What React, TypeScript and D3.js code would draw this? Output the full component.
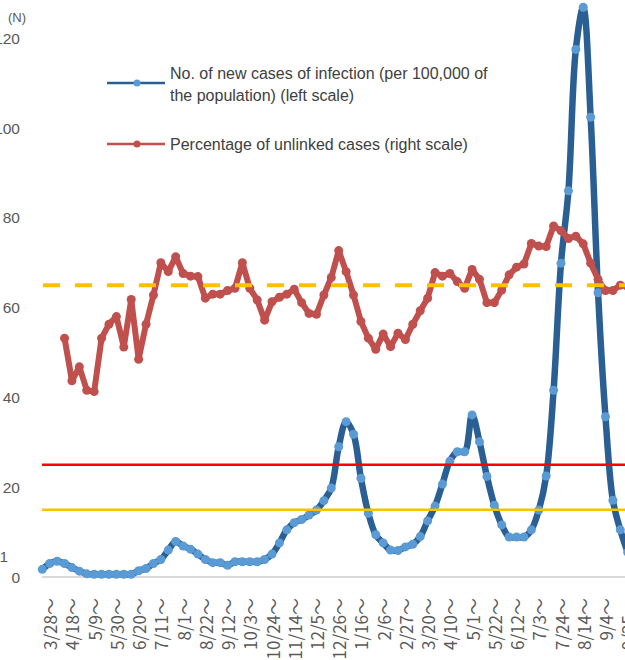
import React from "react";
import * as d3 from "d3";

// Weekly categories (index 0 = week before 3/28); tick labels every 3 weeks from index 1
const tickLabels = ["3/28", "4/18", "5/9", "5/30", "6/20", "7/11", "8/1", "8/22", "9/12", "10/3", "10/24", "11/14", "12/5", "12/26", "1/16", "2/6", "2/27", "3/20", "4/10", "5/1", "5/22", "6/12", "7/3", "7/24", "8/14", "9/4", "9/25"];

// New cases per 100,000 (left scale)
const newCases = [
  1.7, 3.0, 3.5, 3.0, 2.1, 1.3, 0.7, 0.6, 0.6, 0.6,
  0.6, 0.6, 0.6, 1.4, 1.9, 3.0, 3.9, 6.0, 7.9, 6.9,
  6.2, 5.1, 3.9, 3.2, 3.2, 2.6, 3.4, 3.4, 3.4, 3.4,
  3.9, 5.1, 7.6, 10.5, 12.1, 12.8, 13.8, 14.9, 17.0, 19.8,
  29.0, 34.6, 31.8, 22.0, 14.2, 9.4, 7.6, 6.0, 5.9, 6.7,
  7.3, 9.0, 12.5, 15.8, 20.7, 25.8, 27.9, 27.9, 36.1, 30.1,
  22.4, 16.0, 11.6, 8.9, 8.9, 8.9, 10.5, 14.9, 22.5, 41.6,
  69.9, 86.0, 117.5, 126.9, 102.4, 63.3, 35.7, 17.1, 10.5, 5.5,
];

// Percentage of unlinked cases (right scale)
const unlinked: (number | null)[] = [
  null, null, null, 53.2, 43.7, 46.8, 41.6, 41.3, 53.2, 56.3,
  58.0, 51.2, 61.8, 48.5, 56.3, 62.8, 70.0, 68.0, 71.3, 67.6,
  67.0, 66.9, 62.1, 63.0, 63.0, 63.8, 64.3, 70.0, 64.3, 61.7,
  57.2, 61.3, 62.3, 63.0, 64.1, 61.1, 58.7, 58.5, 62.8, 66.7,
  72.7, 68.0, 62.8, 56.9, 53.2, 50.7, 54.1, 51.3, 54.3, 52.9,
  56.3, 59.3, 62.1, 67.8, 67.0, 67.6, 65.8, 64.3, 68.5, 66.3,
  61.1, 61.1, 63.9, 67.3, 69.0, 69.7, 74.3, 73.7, 73.6, 78.2,
  77.1, 75.4, 75.9, 74.2, 69.9, 66.3, 63.8, 63.8, 65.0, 64.7,
];

const yTicks = [0, 20, 40, 60, 80, 100, 120];
const refSolid = [
  { value: 25, color: "#FF0000" },
  { value: 15, color: "#FFC000" },
];
const refDashed = 65;

const legendItems = [
  { lines: ["No. of new cases of infection (per 100,000 of", "the population) (left scale)"], line: "#2A5F93", dot: "#5B9BD5" },
  { lines: ["Percentage of unlinked cases (right scale)"], line: "#C0504D", dot: "#C0504D" },
];

export default function App() {
  const W = 625, H = 660;
  const x = d3.scaleLinear().domain([0, 79]).range([42.3, 627.7]);
  const y = d3.scaleLinear().domain([0, 120]).range([577, 38.2]);

  const blueLine = d3
    .line<number>()
    .x((_, i) => x(i))
    .y((d) => y(d))
    .curve(d3.curveCatmullRom.alpha(0.5))(newCases) as string;

  const redPts = unlinked
    .map((v, i) => ({ v, i }))
    .filter((d) => d.v !== null) as { v: number; i: number }[];
  const redLine = d3
    .line<{ v: number; i: number }>()
    .x((d) => x(d.i))
    .y((d) => y(d.v))(redPts) as string;

  const axisColor = "#595959";
  const font = "'Liberation Sans', Arial, sans-serif";

  return (
    <svg
      width={W}
      height={H}
      style={{ position: "absolute", left: 0, top: 0, background: "#fff" }}
      fontFamily={font}
    >
      <rect x={0} y={0} width={W} height={H} fill="#fff" />
      {/* y axis labels */}
      <text x={17} y={17} fontSize={13} fill={axisColor} textAnchor="middle" dominantBaseline="central">(N)</text>
      {yTicks.map((t) => (
        <text key={t} x={20} y={y(t)} fontSize={15.5} fill={axisColor} textAnchor="end" dominantBaseline="central">
          {t}
        </text>
      ))}
      <text x={8} y={556} fontSize={15.5} fill={axisColor} textAnchor="end" dominantBaseline="central">1</text>

      {/* baseline */}
      <line x1={42} x2={W} y1={y(0)} y2={y(0)} stroke="#D9D9D9" strokeWidth={2} />

      {/* x labels */}
      {tickLabels.map((lab, k) => {
        const xi = x(1 + 3 * k);
        return (
          <text
            key={lab + k}
            transform={`translate(${xi},${598}) rotate(-90)`}
            fontSize={17}
            fill={axisColor}
            textAnchor="end"
            dominantBaseline="central"
            fontFamily="'Noto Sans CJK JP', sans-serif"
          >
            {lab + "～"}
          </text>
        );
      })}

      {/* blue series */}
      <path d={blueLine} fill="none" stroke="#2A5F93" strokeWidth={6.5} strokeLinejoin="round" strokeLinecap="round" />
      {newCases.map((v, i) => (
        <circle key={"b" + i} cx={x(i)} cy={y(v)} r={4.5} fill="#5B9BD5" />
      ))}

      {/* red series */}
      <path d={redLine} fill="none" stroke="#C0504D" strokeWidth={6} strokeLinejoin="round" strokeLinecap="round" />
      {redPts.map((d) => (
        <circle key={"r" + d.i} cx={x(d.i)} cy={y(d.v)} r={4.5} fill="#C0504D" />
      ))}

      {/* reference lines */}
      {refSolid.map((r) => (
        <line key={r.value} x1={42} x2={W} y1={y(r.value)} y2={y(r.value)} stroke={r.color} strokeWidth={2.5} />
      ))}
      <line
        x1={43}
        x2={W}
        y1={y(refDashed)}
        y2={y(refDashed)}
        stroke="#FFC000"
        strokeWidth={4}
        strokeDasharray="17 15"
      />

      {/* legend */}
      {legendItems.map((it, k) => {
        const ly = k === 0 ? 83 : 144;
        const ty = k === 0 ? 73 : 144;
        return (
          <g key={k}>
            <line x1={107} x2={165} y1={ly} y2={ly} stroke={it.line} strokeWidth={2.5} />
            <circle cx={137} cy={ly} r={3.5} fill={it.dot} />
            {it.lines.map((s, j) => (
              <text key={j} x={170} y={ty + j * 22} fontSize={16} fill="#404040" dominantBaseline="central">
                {s}
              </text>
            ))}
          </g>
        );
      })}
    </svg>
  );
}
